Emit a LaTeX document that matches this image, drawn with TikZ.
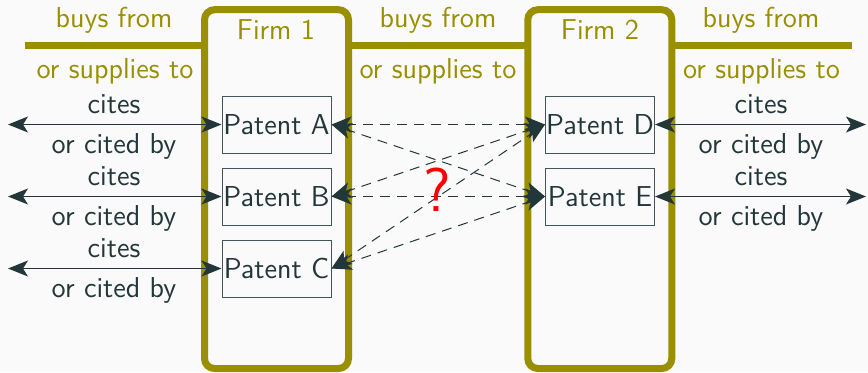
\documentclass[tikz,border=0pt]{standalone}
\usepackage{fontspec}
\usetikzlibrary{arrows.meta}
\definecolor{bgc}{HTML}{FAFAFA}
\definecolor{tealc}{HTML}{23373B}
\definecolor{olivec}{HTML}{998F00}
\tikzset{
  tip/.tip={Stealth[length=10pt,width=8pt,inset=2.5pt]},
  firmbox/.style={draw=olivec, line width=3.5pt, rounded corners=5pt, fill=bgc,
    minimum width=72pt, minimum height=179.4pt, inner sep=0pt},
  chainline/.style={draw=olivec, line width=3.5pt},
  patentbox/.style={draw=tealc!85, line width=0.5pt, fill=bgc, text=tealc,
    minimum width=54.5pt, minimum height=28.5pt, inner sep=0pt},
  olivetxt/.style={text=olivec, anchor=base, inner sep=0pt},
  citetxt/.style={text=tealc, anchor=base, inner sep=0pt},
  citeline/.style={draw=tealc, line width=0.6pt, tip-tip},
  linkline/.style={draw=tealc, line width=0.5pt, dash pattern=on 5pt off 3.5pt, tip-tip},
}
\begin{document}
\begin{tikzpicture}[x=0.5pt, y=-0.5pt, font=\sffamily\fontsize{14.4}{17}\selectfont]
  \useasboundingbox (0,0) rectangle (868,372);
  \clip (0,0) rectangle (868,372);
  \fill[bgc] (0,0) rectangle (868,372);

  % supply chain line, running behind the firms
  \coordinate (chainL) at (25,45.7);
  \coordinate (chainR) at (851.7,45.7);
  \draw[chainline] (chainL) -- (chainR);

  % firms
  \node[firmbox] (firm1) at (276.5,189.1) {};
  \node[firmbox] (firm2) at (599.8,189.1) {};
  \node[olivetxt] (f1lbl) at (276,39) {Firm 1};
  \node[olivetxt] (f2lbl) at (600,39) {Firm 2};

  % supply relations
  \node[olivetxt] (buyL) at (114,27) {buys from};
  \node[olivetxt] (supL) at (115,78) {or supplies to};
  \node[olivetxt] (buyM) at (438,27) {buys from};
  \node[olivetxt] (supM) at (438,78) {or supplies to};
  \node[olivetxt] (buyR) at (761,27) {buys from};
  \node[olivetxt] (supR) at (761.5,78) {or supplies to};

  % patents
  \node[patentbox] (pA) at (276.5,124.5) {Patent A};
  \node[patentbox] (pB) at (276.5,196.5) {Patent B};
  \node[patentbox] (pC) at (276.5,268.5) {Patent C};
  \node[patentbox] (pD) at (600,124.5) {Patent D};
  \node[patentbox] (pE) at (600,196.5) {Patent E};

  % outside citations, Firm 1
  \foreach \p/\y in {A/124.5, B/196.5, C/268.5} {
    \coordinate (out\p) at (8,\y);
    \draw[citeline] (out\p) -- (p\p.west);
    \node[citetxt] (cites\p) at (114,\y-11) {cites};
    \node[citetxt] (cited\p) at (114,\y+29) {or cited by};
  }
  % outside citations, Firm 2
  \foreach \p/\y in {D/124.5, E/196.5} {
    \coordinate (out\p) at (866,\y);
    \draw[citeline] (p\p.east) -- (out\p);
    \node[citetxt] (cites\p) at (761,\y-11) {cites};
    \node[citetxt] (cited\p) at (761,\y+29) {or cited by};
  }

  % possible citations between the two firms
  \foreach \a in {A,B,C} {
    \foreach \b in {D,E} {
      \draw[linkline] (p\a.east) -- (p\b.west);
    }
  }

  \node[text=red, inner sep=0pt, font=\sffamily\fontsize{31}{31}\selectfont] (qmark) at (437.5,190) {?};
\end{tikzpicture}
\end{document}
